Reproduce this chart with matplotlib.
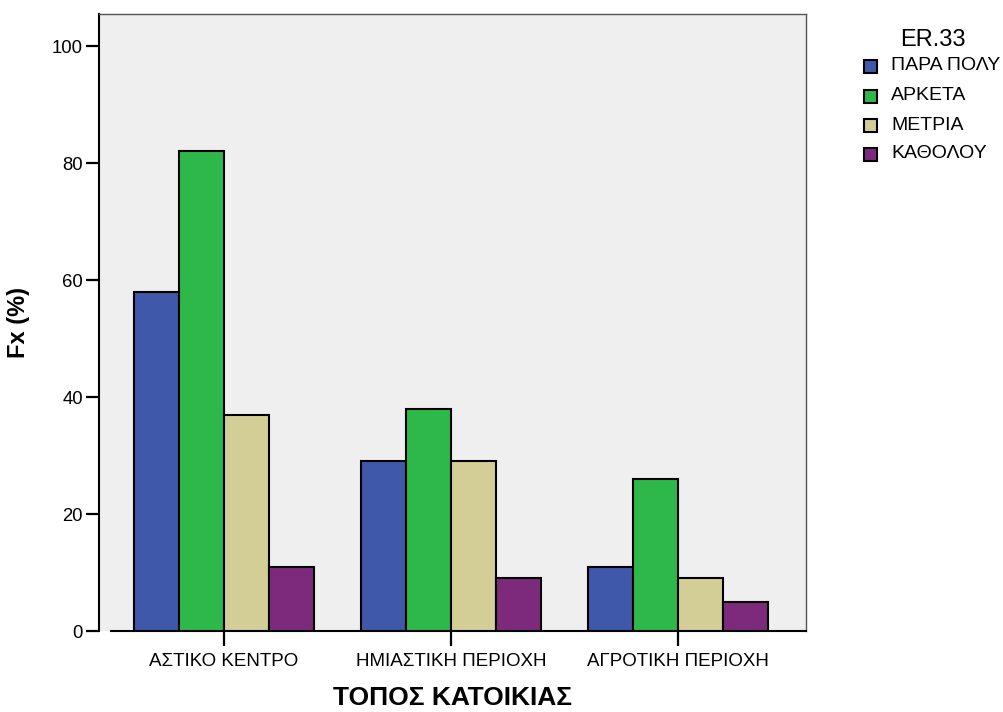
import matplotlib
matplotlib.use("Agg")
import matplotlib.pyplot as plt
from matplotlib.patches import Rectangle
import numpy as np

plt.rcParams['font.family'] = ['Liberation Sans', 'DejaVu Sans']

categories = ["ΑΣΤΙΚΟ ΚΕΝΤΡΟ", "ΗΜΙΑΣΤΙΚΗ ΠΕΡΙΟΧΗ", "ΑΓΡΟΤΙΚΗ ΠΕΡΙΟΧΗ"]
series_names = ["ΠΑΡΑ ΠΟΛΥ", "ΑΡΚΕΤΑ", "ΜΕΤΡΙΑ", "ΚΑΘΟΛΟΥ"]
para_poly = [58, 29, 11]
arketa = [82, 38, 26]
metria = [37, 29, 9]
katholou = [11, 9, 5]
colors = ["#3F58AA", "#2EB84A", "#D3CE96", "#7E2A7C"]
yticks = [0, 20, 40, 60, 80, 100]

W, H = 1004, 712
fig = plt.figure(figsize=(W / 100, H / 100), dpi=100)
ax = fig.add_axes([99 / W, 1 - 631 / H, (806 - 99) / W, (631 - 14) / H])
ax.set_facecolor("#EFEFEF")

x = np.arange(len(categories))
width = 0.198
series = [para_poly, arketa, metria, katholou]
for i, (vals, col) in enumerate(zip(series, colors)):
    ax.bar(x + (i - 1.5) * width, vals, width, color=col,
           edgecolor="black", linewidth=1.5, zorder=3)

ax.set_xlim(-0.551, 2.564)
ax.set_ylim(0, 105.5)
ax.set_yticks(yticks)
ax.set_xticks(x)
ax.set_xticklabels(categories, fontsize=13.5)
ax.tick_params(axis='y', labelsize=13.3, length=9.5, width=1.6, direction='out', pad=2)
ax.tick_params(axis='x', length=10.5, width=1.6, direction='out', pad=5)

for s in ['top', 'right']:
    ax.spines[s].set_color('#555555')
    ax.spines[s].set_linewidth(1.0)
ax.spines['left'].set_linewidth(1.5)
ax.spines['bottom'].set_linewidth(1.5)
ax.spines['bottom'].set_bounds(-0.5, 2.564)

ax.set_ylabel("Fx (%)", fontsize=17, fontweight='bold', labelpad=16)
ax.set_xlabel("ΤΟΠΟΣ ΚΑΤΟΙΚΙΑΣ", fontsize=19, fontweight='bold', labelpad=12)

# legend drawn in figure pixel coordinates
fig.text(933 / W, 1 - 40 / H, "ER.33", fontsize=17, ha='center', va='center')
rows = [66, 96, 125, 154]
for name, col, yc in zip(series_names, colors, rows):
    fig.patches.append(Rectangle(((864) / W, 1 - (yc + 6.5) / H), 13 / W, 13 / H,
                                 facecolor=col, edgecolor='black', linewidth=1.5,
                                 transform=fig.transFigure, figure=fig))
    fig.text(891 / W, 1 - yc / H, name, fontsize=14, ha='left', va='center')

fig.savefig("out.png", dpi=100)
